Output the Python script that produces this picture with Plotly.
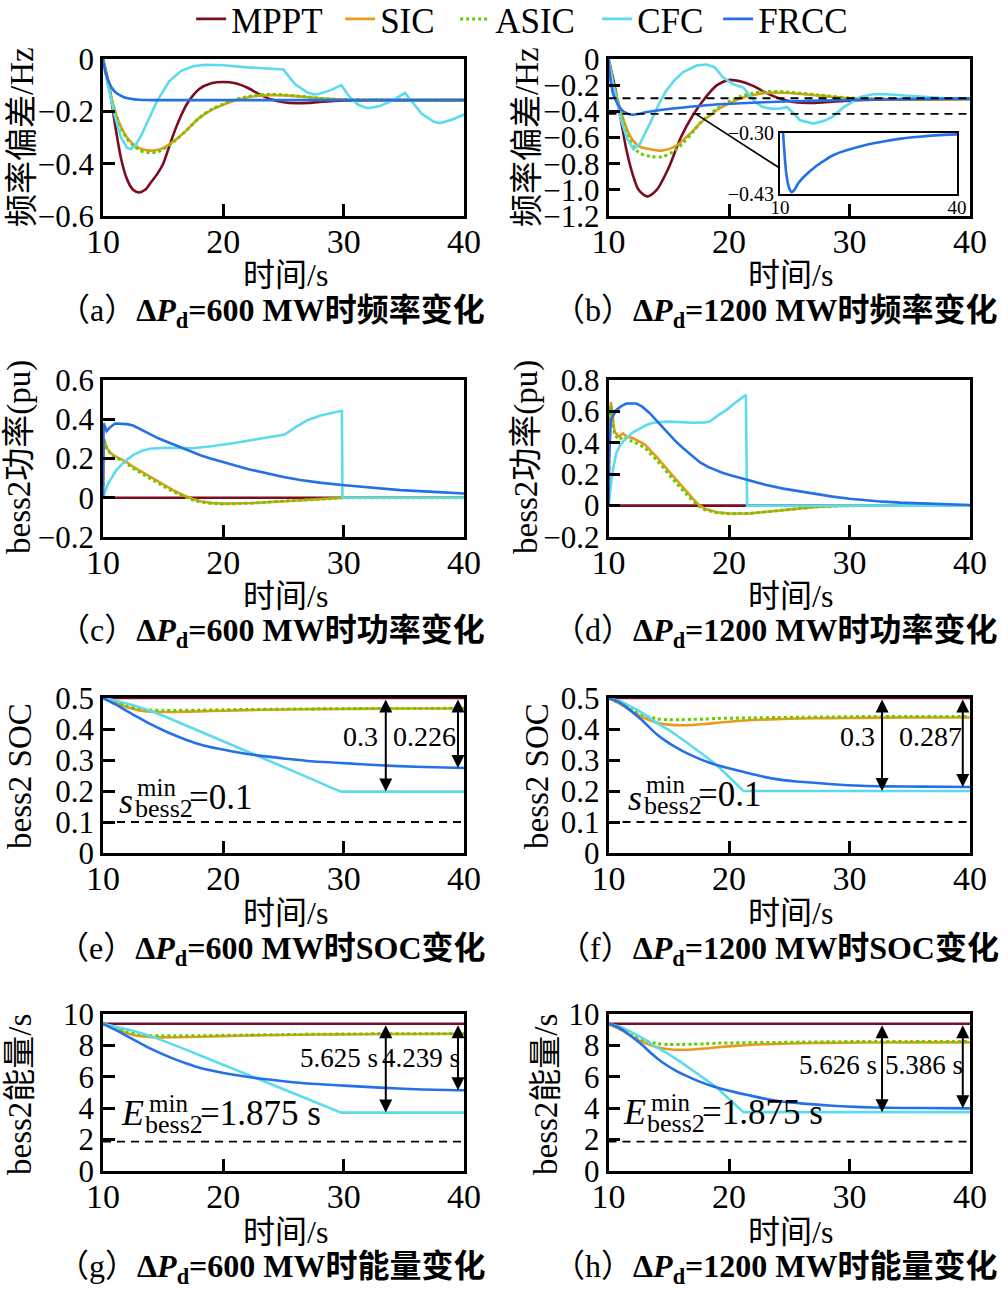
import plotly.graph_objects as go

W, H = 1008, 1292
def px(X): return X / W
def py(Y): return 1 - Y / H

SERIF = "Liberation Serif, Noto Sans CJK SC"
names = ["MPPT", "SIC", "ASIC", "CFC", "FRCC"]
colors = ["#7d0b22", "#e89a1c", "#66cc00", "#5adcee", "#2570e6"]
legend_widths = [104, 70, 97, 76, 88]

# ---------------- (a) 600 MW frequency deviation ----------------
a_t_mppt = [10, 10.5, 11, 11.5, 12, 12.5, 13, 13.5, 14, 14.5, 15, 15.5, 16, 16.5, 17, 18, 19, 20, 21, 22, 23, 24, 25, 26, 27, 28, 30, 33, 40]
a_mppt = [0, -0.1, -0.25, -0.38, -0.46, -0.5, -0.51, -0.5, -0.47, -0.44, -0.4, -0.335, -0.27, -0.215, -0.17, -0.115, -0.093, -0.088, -0.093, -0.11, -0.135, -0.155, -0.165, -0.169, -0.168, -0.164, -0.158, -0.157, -0.157]
a_t_sic = [10, 10.3, 10.7, 11, 11.5, 12, 12.5, 13, 13.5, 14, 14.5, 15, 16, 17, 18, 19, 20, 21, 22, 23, 24, 25, 26, 27, 28, 30, 33, 40]
a_sic = [0, -0.07, -0.15, -0.2, -0.26, -0.3, -0.325, -0.34, -0.348, -0.35, -0.348, -0.34, -0.31, -0.27, -0.225, -0.195, -0.175, -0.158, -0.147, -0.14, -0.138, -0.139, -0.142, -0.146, -0.15, -0.155, -0.157, -0.157]
a_asic = [0, -0.07, -0.15, -0.2, -0.265, -0.305, -0.33, -0.347, -0.356, -0.358, -0.355, -0.345, -0.312, -0.27, -0.225, -0.193, -0.172, -0.155, -0.144, -0.137, -0.135, -0.137, -0.141, -0.145, -0.15, -0.155, -0.157, -0.157]
a_t_cfc = [10, 10.5, 11, 11.5, 12, 12.3, 12.7, 13.2, 13.7, 14.5, 15.5, 16.5, 17.5, 18.5, 20, 22, 24, 25, 25.5, 26, 27, 27.5, 28, 29, 29.8, 30.5, 31.2, 32, 33, 34, 35.1, 35.6, 36.5, 37.5, 38, 39, 40]
a_cfc = [0, -0.12, -0.22, -0.3, -0.34, -0.344, -0.33, -0.29, -0.24, -0.16, -0.085, -0.045, -0.028, -0.022, -0.024, -0.032, -0.037, -0.04, -0.07, -0.098, -0.128, -0.135, -0.133, -0.118, -0.1, -0.145, -0.175, -0.188, -0.18, -0.16, -0.13, -0.16, -0.21, -0.24, -0.245, -0.232, -0.212]
a_t_frcc = [10, 10.2, 10.5, 10.8, 11.2, 11.7, 12.3, 13, 14, 16, 20, 30, 40]
a_frcc = [0, -0.05, -0.09, -0.115, -0.133, -0.145, -0.152, -0.156, -0.157, -0.157, -0.157, -0.157, -0.157]

# ---------------- (b) 1200 MW frequency deviation ----------------
b_t_mppt = [10, 10.5, 11, 11.5, 12, 12.5, 13.2, 14, 15, 16, 17, 18, 19, 20, 21, 22, 23, 24, 25, 26.5, 28, 30, 33, 40]
b_mppt = [0, -0.2, -0.45, -0.7, -0.88, -1.0, -1.05, -1.0, -0.83, -0.6, -0.43, -0.3, -0.2, -0.16, -0.172, -0.205, -0.255, -0.295, -0.322, -0.335, -0.33, -0.318, -0.31, -0.305]
b_t_sic = [10, 10.4, 11, 11.5, 12, 12.6, 13.5, 14.5, 15.5, 16.2, 17, 17.6, 18.3, 19, 20, 21, 22, 23, 24.5, 26, 27.5, 30, 33, 40]
b_sic = [0, -0.19, -0.39, -0.53, -0.62, -0.67, -0.69, -0.70, -0.67, -0.62, -0.55, -0.49, -0.44, -0.39, -0.34, -0.3, -0.275, -0.26, -0.258, -0.268, -0.28, -0.3, -0.306, -0.305]
b_asic = [0, -0.19, -0.4, -0.56, -0.66, -0.72, -0.745, -0.745, -0.7, -0.64, -0.56, -0.49, -0.43, -0.38, -0.325, -0.285, -0.262, -0.25, -0.25, -0.262, -0.275, -0.298, -0.306, -0.305]
b_t_cfc = [10, 10.4, 11, 11.5, 12.07, 12.6, 13.45, 14.2, 14.8, 15.5, 16.2, 17.3, 18.15, 18.8, 19.5, 20.3, 21.2, 21.5, 22.2, 22.8, 23.5, 24.2, 24.8, 25.3, 25.9, 27, 28, 28.6, 29.5, 30.9, 32, 33, 34.5, 36, 38, 40]
b_cfc = [0, -0.2, -0.45, -0.6, -0.69, -0.65, -0.49, -0.34, -0.24, -0.16, -0.1, -0.05, -0.043, -0.063, -0.14, -0.19, -0.22, -0.255, -0.33, -0.367, -0.38, -0.38, -0.367, -0.41, -0.468, -0.494, -0.47, -0.44, -0.37, -0.29, -0.27, -0.27, -0.28, -0.29, -0.3, -0.305]
b_t_frcc = [10, 10.15, 10.4, 10.8, 11.1, 11.5, 11.96, 12.5, 13.1, 14.5, 16, 17.5, 18.9, 21, 24.7, 27.5, 30.5, 33.5, 36.3, 40]
b_frcc = [0, -0.15, -0.27, -0.35, -0.39, -0.415, -0.426, -0.42, -0.407, -0.388, -0.372, -0.359, -0.348, -0.338, -0.325, -0.318, -0.312, -0.308, -0.305, -0.303]
b_zoom_lines = [-0.30, -0.42]
b_inset_range = [-0.43, -0.30]

# ---------------- (c) 600 MW bess2 power ----------------
c_t_mppt = [10, 40]
c_mppt = [0, 0]
c_t_sic = [10, 10.08, 10.3, 10.6, 10.9, 11.4, 12, 12.5, 13.2, 13.9, 14.6, 15.3, 16, 16.7, 17.4, 18.1, 19, 20, 21, 22.5, 24, 26, 28, 29.7, 30, 40]
c_sic = [0, 0.3, 0.255, 0.23, 0.215, 0.2, 0.18, 0.158, 0.133, 0.107, 0.08, 0.056, 0.033, 0.013, -0.005, -0.018, -0.026, -0.03, -0.03, -0.027, -0.022, -0.014, -0.006, -0.002, 0, 0]
c_asic = [0, 0.3, 0.255, 0.225, 0.21, 0.195, 0.172, 0.15, 0.124, 0.098, 0.072, 0.048, 0.026, 0.007, -0.01, -0.022, -0.029, -0.032, -0.031, -0.027, -0.021, -0.013, -0.006, -0.002, 0, 0]
c_t_cfc = [10, 10.4, 11.1, 11.8, 12.5, 13.2, 13.9, 15.3, 17.5, 19, 20.8, 22.5, 24, 25.1, 26, 27, 28, 29, 29.85, 29.9, 40]
c_cfc = [0, 0.07, 0.14, 0.185, 0.217, 0.238, 0.25, 0.255, 0.252, 0.262, 0.278, 0.295, 0.31, 0.322, 0.36, 0.395, 0.418, 0.433, 0.443, 0, 0]
c_t_frcc = [10, 10.05, 10.3, 10.6, 11, 12, 12.5, 13.2, 13.9, 14.6, 15.3, 16, 16.7, 17.4, 18.1, 18.8, 19.5, 20.2, 20.8, 21.5, 22.2, 23.6, 25, 26.4, 28, 30.1, 32.5, 34.7, 37.5, 40]
c_frcc = [0, 0.38, 0.34, 0.36, 0.378, 0.375, 0.368, 0.345, 0.322, 0.303, 0.285, 0.267, 0.25, 0.233, 0.217, 0.203, 0.19, 0.177, 0.166, 0.155, 0.144, 0.124, 0.106, 0.09, 0.077, 0.064, 0.05, 0.039, 0.03, 0.022]

# ---------------- (d) 1200 MW bess2 power ----------------
d_t_mppt = [10, 40]
d_mppt = [0, 0]
d_t_sic = [10, 10.1, 10.2, 10.5, 10.9, 11.2, 11.5, 12, 13, 14, 15, 16, 17, 17.5, 18, 19, 20, 21.7, 23, 24.5, 26, 27.3, 29, 31, 40]
d_sic = [0, 0.55, 0.66, 0.47, 0.44, 0.46, 0.44, 0.43, 0.39, 0.31, 0.22, 0.13, 0.045, 0.005, -0.02, -0.042, -0.05, -0.05, -0.04, -0.028, -0.016, -0.008, -0.003, 0, 0]
d_asic = [0, 0.6, 0.64, 0.45, 0.42, 0.44, 0.42, 0.41, 0.37, 0.29, 0.2, 0.11, 0.03, -0.005, -0.027, -0.046, -0.052, -0.05, -0.04, -0.027, -0.015, -0.007, -0.002, 0, 0]
d_t_cfc = [10, 10.3, 10.64, 11, 11.5, 12, 12.6, 13.2, 13.7, 14.8, 16, 17, 18, 18.4, 19, 19.8, 20.6, 21.4, 21.5, 40]
d_cfc = [0, 0.2, 0.333, 0.39, 0.43, 0.465, 0.49, 0.515, 0.528, 0.535, 0.532, 0.528, 0.53, 0.535, 0.57, 0.61, 0.66, 0.705, 0, 0]
d_t_frcc = [10, 10.05, 10.2, 10.64, 11.1, 11.5, 12.3, 12.8, 13.4, 14.1, 14.8, 15.5, 16.2, 17, 17.6, 18.3, 18.9, 19.5, 20.2, 21.4, 22.2, 23.1, 24.5, 25.9, 27.2, 28.6, 30, 31.4, 32.8, 34.2, 37, 40]
d_frcc = [0, 0.3, 0.545, 0.61, 0.635, 0.65, 0.65, 0.63, 0.59, 0.53, 0.47, 0.415, 0.365, 0.31, 0.275, 0.245, 0.224, 0.208, 0.192, 0.165, 0.148, 0.131, 0.108, 0.089, 0.072, 0.057, 0.044, 0.033, 0.025, 0.019, 0.01, 0.004]

# ---------------- (e) 600 MW SOC ----------------
e_t_mppt = [10, 40]
e_mppt = [0.5, 0.5]
e_t_sic = [10, 11, 12, 13, 14, 15, 16, 18, 20, 22, 25, 28, 31, 35, 40]
e_sic = [0.5, 0.485, 0.47, 0.46, 0.456, 0.455, 0.455, 0.457, 0.459, 0.461, 0.463, 0.464, 0.465, 0.466, 0.466]
e_asic = [0.5, 0.487, 0.474, 0.465, 0.461, 0.46, 0.46, 0.461, 0.462, 0.463, 0.464, 0.465, 0.466, 0.466, 0.467]
e_t_cfc = [10, 11, 12.5, 14, 15.3, 17, 18.5, 20, 21.5, 23, 24.5, 26, 27.5, 29, 29.8, 40]
e_cfc = [0.5, 0.492, 0.477, 0.458, 0.438, 0.41, 0.385, 0.36, 0.336, 0.312, 0.287, 0.262, 0.236, 0.21, 0.198, 0.198]
e_t_frcc = [10, 11, 12, 13, 14, 15, 16, 17, 18, 19.5, 21, 23, 25, 27, 30, 33, 36, 40]
e_frcc = [0.5, 0.48, 0.458, 0.436, 0.415, 0.396, 0.379, 0.364, 0.351, 0.337, 0.326, 0.314, 0.305, 0.297, 0.29, 0.283, 0.278, 0.274]
e_min_line = 0.1

# ---------------- (f) 1200 MW SOC ----------------
f_t_mppt = [10, 40]
f_mppt = [0.5, 0.5]
f_t_sic = [10, 11, 12, 13, 14, 15, 16, 17, 18, 19, 20.5, 22, 24, 26, 28.5, 31, 35, 40]
f_sic = [0.5, 0.48, 0.455, 0.435, 0.42, 0.414, 0.412, 0.413, 0.416, 0.42, 0.425, 0.429, 0.432, 0.434, 0.435, 0.436, 0.437, 0.437]
f_asic = [0.5, 0.482, 0.46, 0.443, 0.433, 0.43, 0.43, 0.431, 0.432, 0.434, 0.435, 0.436, 0.437, 0.438, 0.439, 0.44, 0.44, 0.44]
f_t_cfc = [10, 11, 12.07, 13, 14, 15, 16, 17, 18, 19, 20, 21.2, 40]
f_cfc = [0.5, 0.49, 0.468, 0.447, 0.42, 0.397, 0.37, 0.342, 0.313, 0.283, 0.245, 0.2, 0.2]
f_t_frcc = [10, 10.7, 11.4, 12.07, 12.8, 13.45, 14.1, 14.8, 15.5, 16.2, 17.4, 18.7, 20.4, 21.8, 23.1, 24.5, 25.9, 28.6, 31, 33, 36, 40]
f_frcc = [0.5, 0.49, 0.473, 0.452, 0.428, 0.403, 0.38, 0.36, 0.343, 0.328, 0.306, 0.287, 0.269, 0.256, 0.244, 0.235, 0.23, 0.222, 0.217, 0.215, 0.214, 0.213]
f_min_line = 0.1

# ---------------- (g) 600 MW energy ----------------
g_t_mppt = [10, 40]
g_mppt = [9.375, 9.375]
g_t_sic = [10, 11, 12, 13, 14, 15, 16, 18, 20, 22, 25, 28, 31, 35, 40]
g_sic = [9.375, 9.07, 8.78, 8.6, 8.53, 8.51, 8.52, 8.55, 8.59, 8.63, 8.66, 8.69, 8.71, 8.73, 8.74]
g_asic = [9.375, 9.11, 8.87, 8.7, 8.63, 8.61, 8.61, 8.62, 8.64, 8.66, 8.69, 8.71, 8.73, 8.74, 8.75]
g_t_cfc = [10, 11, 12.5, 14, 15.3, 17, 18.5, 20, 21.5, 23, 24.5, 26, 27.5, 29, 29.8, 40]
g_cfc = [9.375, 9.22, 8.94, 8.59, 8.22, 7.7, 7.23, 6.76, 6.3, 5.86, 5.39, 4.92, 4.43, 3.95, 3.72, 3.72]
g_t_frcc = [10, 11, 12, 13, 14, 15, 16, 17, 18, 19.5, 21, 23, 25, 27, 30, 33, 36, 40]
g_frcc = [9.375, 9.0, 8.59, 8.18, 7.78, 7.43, 7.11, 6.83, 6.58, 6.32, 6.11, 5.89, 5.72, 5.57, 5.44, 5.31, 5.21, 5.14]
g_min_line = 1.875

# ---------------- (h) 1200 MW energy ----------------
h_t_mppt = [10, 40]
h_mppt = [9.375, 9.375]
h_t_sic = [10, 11, 12, 13, 14, 15, 16, 17, 18, 19, 20.5, 22, 24, 26, 28.5, 31, 35, 40]
h_sic = [9.375, 9.0, 8.53, 8.16, 7.88, 7.76, 7.72, 7.74, 7.8, 7.88, 7.97, 8.04, 8.1, 8.14, 8.16, 8.18, 8.19, 8.19]
h_asic = [9.375, 9.04, 8.63, 8.31, 8.12, 8.06, 8.06, 8.08, 8.1, 8.14, 8.16, 8.18, 8.19, 8.21, 8.23, 8.25, 8.25, 8.25]
h_t_cfc = [10, 11, 12.07, 13, 14, 15, 16, 17, 18, 19, 20, 21.2, 40]
h_cfc = [9.375, 9.19, 8.78, 8.38, 7.88, 7.44, 6.94, 6.41, 5.87, 5.31, 4.59, 3.75, 3.75]
h_t_frcc = [10, 10.7, 11.4, 12.07, 12.8, 13.45, 14.1, 14.8, 15.5, 16.2, 17.4, 18.7, 20.4, 21.8, 23.1, 24.5, 25.9, 28.6, 31, 33, 36, 40]
h_frcc = [9.375, 9.19, 8.87, 8.48, 8.03, 7.56, 7.13, 6.75, 6.43, 6.15, 5.74, 5.38, 5.04, 4.8, 4.58, 4.41, 4.31, 4.16, 4.07, 4.03, 4.01, 3.99]
h_min_line = 1.875

# ---------------- layout helpers ----------------
LX = [103, 464]
RX = [608.5, 970]
ROWS = [[59, 216], [380, 537], [698, 853], [1014, 1171]]

panels = [
    ("a", 1, LX, 0, [-0.6, 0], [0, -0.2, -0.4, -0.6], ["0", "−0.2", "−0.4", "−0.6"],
     [(a_t_mppt, a_mppt), (a_t_sic, a_sic), (a_t_sic, a_asic), (a_t_cfc, a_cfc), (a_t_frcc, a_frcc)]),
    ("b", 2, RX, 0, [-1.2, 0], [0, -0.2, -0.4, -0.6, -0.8, -1.0, -1.2], ["0", "−0.2", "−0.4", "−0.6", "−0.8", "−1.0", "−1.2"],
     [(b_t_mppt, b_mppt), (b_t_sic, b_sic), (b_t_sic, b_asic), (b_t_cfc, b_cfc), (b_t_frcc, b_frcc)]),
    ("c", 3, LX, 1, [-0.2, 0.6], [0.6, 0.4, 0.2, 0, -0.2], ["0.6", "0.4", "0.2", "0", "−0.2"],
     [(c_t_mppt, c_mppt), (c_t_sic, c_sic), (c_t_sic, c_asic), (c_t_cfc, c_cfc), (c_t_frcc, c_frcc)]),
    ("d", 4, RX, 1, [-0.2, 0.8], [0.8, 0.6, 0.4, 0.2, 0, -0.2], ["0.8", "0.6", "0.4", "0.2", "0", "−0.2"],
     [(d_t_mppt, d_mppt), (d_t_sic, d_sic), (d_t_sic, d_asic), (d_t_cfc, d_cfc), (d_t_frcc, d_frcc)]),
    ("e", 5, LX, 2, [0, 0.5], [0.5, 0.4, 0.3, 0.2, 0.1, 0], ["0.5", "0.4", "0.3", "0.2", "0.1", "0"],
     [(e_t_mppt, e_mppt), (e_t_sic, e_sic), (e_t_sic, e_asic), (e_t_cfc, e_cfc), (e_t_frcc, e_frcc)]),
    ("f", 6, RX, 2, [0, 0.5], [0.5, 0.4, 0.3, 0.2, 0.1, 0], ["0.5", "0.4", "0.3", "0.2", "0.1", "0"],
     [(f_t_mppt, f_mppt), (f_t_sic, f_sic), (f_t_sic, f_asic), (f_t_cfc, f_cfc), (f_t_frcc, f_frcc)]),
    ("g", 7, LX, 3, [0, 10], [10, 8, 6, 4, 2, 0], ["10", "8", "6", "4", "2", "0"],
     [(g_t_mppt, g_mppt), (g_t_sic, g_sic), (g_t_sic, g_asic), (g_t_cfc, g_cfc), (g_t_frcc, g_frcc)]),
    ("h", 8, RX, 3, [0, 10], [10, 8, 6, 4, 2, 0], ["10", "8", "6", "4", "2", "0"],
     [(h_t_mppt, h_mppt), (h_t_sic, h_sic), (h_t_sic, h_asic), (h_t_cfc, h_cfc), (h_t_frcc, h_frcc)]),
]

fig = go.Figure()
layout = dict(
    width=W, height=H, margin=dict(l=0, r=0, t=0, b=0, autoexpand=False),
    paper_bgcolor="white", plot_bgcolor="white",
    font=dict(family=SERIF, color="black", size=30),
    showlegend=True,
    legend=dict(orientation="h", x=0.517, xanchor="center", y=1.008, yanchor="top",
                font=dict(size=35, family=SERIF, color="black"), bgcolor="rgba(0,0,0,0)",
                itemwidth=30, tracegroupgap=0),
)

def axcfg(**kw):
    base = dict(showline=True, linecolor="black", linewidth=2.5, mirror=True,
                ticks="inside", ticklen=12, tickwidth=2.5, tickcolor="black",
                showgrid=False, zeroline=False, automargin=False, fixedrange=True)
    base.update(kw)
    return base

shapes = []
annotations = []

for key, idx, xpix, row, yr, yt, ytt, series in panels:
    sfx = "" if idx == 1 else str(idx)
    xname, yname = "x" + sfx, "y" + sfx
    ytop, ybot = ROWS[row]
    layout["xaxis" + sfx] = axcfg(domain=[px(xpix[0]), px(xpix[1])], anchor=yname, range=[10, 40],
                                  tickvals=[10, 20, 30, 40], ticktext=["10", "20", "30", "40"],
                                  ticklabelstandoff=-7,
                                  tickfont=dict(size=34, family=SERIF, color="black"))
    layout["yaxis" + sfx] = axcfg(domain=[py(ybot), py(ytop)], anchor=xname, range=yr,
                                  tickvals=yt, ticktext=ytt,
                                  tickfont=dict(size=31, family=SERIF, color="black"))
    for i, (t, v) in enumerate(series):
        nm = names[i]
        shape = "linear"
        if nm in ("MPPT", "SIC", "ASIC", "FRCC") and key in ("a", "b", "e", "f", "g", "h"):
            shape = "spline"
        line = dict(color=colors[i], width=2.6, shape=shape)
        if shape == "spline":
            line["smoothing"] = 0.8
        if nm == "ASIC":
            line["dash"] = "dot"
            line["width"] = 3
        fig.add_trace(go.Scatter(x=t, y=v, mode="lines", name=nm, line=line,
                                 xaxis=xname, yaxis=yname, showlegend=(key == "a"),
                                 legendwidth=legend_widths[i],
                                 legendgroup=nm, hoverinfo="skip"))

# ---- inset for (b) ----
layout["xaxis9"] = axcfg(domain=[px(780), px(957)], anchor="y9", range=[10, 40], tickvals=[10, 40],
                         ticktext=["10", "40"], ticks="", linewidth=2, ticklabelstandoff=-5,
                         tickfont=dict(size=19, family=SERIF, color="black"))
layout["yaxis9"] = axcfg(domain=[py(194), py(133)], anchor="x9", range=b_inset_range,
                         tickvals=b_inset_range, ticktext=["−0.43", "−0.30"], ticks="", linewidth=2,
                         tickfont=dict(size=20, family=SERIF, color="black"))
fig.add_trace(go.Scatter(x=b_t_frcc, y=b_frcc, mode="lines", line=dict(color=colors[4], width=2.6, shape="spline", smoothing=0.8),
                         xaxis="x9", yaxis="y9", showlegend=False, hoverinfo="skip"))

# dashed reference lines
for yv in b_zoom_lines:
    shapes.append(dict(type="line", xref="x2", yref="y2", x0=10, x1=40, y0=yv, y1=yv,
                       line=dict(color="black", width=1.8, dash="8px,6px")))
shapes.append(dict(type="line", xref="x2", yref="y2", x0=17.2, y0=-0.418, x1=24.23, y1=-0.835,
                   line=dict(color="black", width=1.6)))
for ax, yv in (("5", e_min_line), ("6", f_min_line), ("7", g_min_line), ("8", h_min_line)):
    shapes.append(dict(type="line", xref="x" + ax, yref="y" + ax, x0=10, x1=40, y0=yv, y1=yv,
                       line=dict(color="black", width=1.8, dash="8px,6px")))

# double arrows
def darrow(ax, t, y0, y1):
    annotations.append(dict(x=t, y=y1, ax=t, ay=y0, xref="x" + ax, yref="y" + ax,
                            axref="x" + ax, ayref="y" + ax, text="", showarrow=True,
                            arrowhead=2, arrowside="end+start", arrowsize=1.3, arrowwidth=2,
                            arrowcolor="black", standoff=0, startstandoff=0))

darrow("5", 33.5, 0.5, 0.198); darrow("5", 39.5, 0.5, 0.274)
darrow("6", 32.7, 0.5, 0.2); darrow("6", 39.4, 0.5, 0.213)
darrow("7", 33.5, 9.375, 3.72); darrow("7", 39.5, 9.375, 5.14)
darrow("8", 32.7, 9.375, 3.75); darrow("8", 39.4, 9.375, 3.99)

def txt(X, Y, s, size=30, xanchor="center", yanchor="middle", angle=0):
    annotations.append(dict(x=px(X), y=py(Y), xref="paper", yref="paper", text=s, showarrow=False,
                            xanchor=xanchor, yanchor=yanchor, textangle=angle,
                            font=dict(size=size, family=SERIF, color="black")))

# value labels
txt(360, 736, "0.3", 28); txt(424, 736, "0.226", 28)
txt(857, 736, "0.3", 28); txt(930, 736, "0.287", 28)
txt(339, 1058, "5.625 s", 27); txt(421, 1058, "4.239 s", 27)
txt(838, 1065, "5.626 s", 27); txt(924, 1065, "5.386 s", 27)

# s_bess2^min and E_bess2^min labels
for (x0, y0) in ((117, 797), (626, 794)):
    txt(x0, y0 + 4, "<i>s</i>", 36, xanchor="left")
    txt(x0 + 18, y0 - 10, "min", 25, xanchor="left")
    txt(x0 + 16, y0 + 11, "bess2", 26, xanchor="left")
    txt(x0 + 70, y0, "=0.1", 35, xanchor="left")
for (x0, y0) in ((119, 1113), (621, 1112)):
    txt(x0, y0, "<i>E</i>", 36, xanchor="left")
    txt(x0 + 28, y0 - 10, "min", 25, xanchor="left")
    txt(x0 + 24, y0 + 11, "bess2", 26, xanchor="left")
    txt(x0 + 79, y0, "=1.875 s", 35, xanchor="left")

# axis titles
for cx in (285, 790):
    for Y in (275, 596, 913, 1232):
        txt(cx, Y, "时间/s", 32)
txt(22, 137, "频率偏差/Hz", 33, angle=-90)
txt(527, 137, "频率偏差/Hz", 33, angle=-90)
txt(20, 457, "bess2功率(pu)", 33, angle=-90)
txt(527, 457, "bess2功率(pu)", 33, angle=-90)
txt(20, 776, "bess2 SOC", 33, angle=-90)
txt(537, 776, "bess2 SOC", 33, angle=-90)
txt(20, 1095, "bess2能量/s", 33, angle=-90)
txt(546, 1095, "bess2能量/s", 33, angle=-90)

# captions
caps = [
    (271, 312, "（a）<b>Δ<i>P</i><sub>d</sub>=600 MW时频率变化</b>"),
    (775, 312, "（b）<b>Δ<i>P</i><sub>d</sub>=1200 MW时频率变化</b>"),
    (271, 632, "（c）<b>Δ<i>P</i><sub>d</sub>=600 MW时功率变化</b>"),
    (775, 632, "（d）<b>Δ<i>P</i><sub>d</sub>=1200 MW时功率变化</b>"),
    (271, 950, "（e）<b>Δ<i>P</i><sub>d</sub>=600 MW时SOC变化</b>"),
    (778, 950, "（f）<b>Δ<i>P</i><sub>d</sub>=1200 MW时SOC变化</b>"),
    (271, 1268, "（g）<b>Δ<i>P</i><sub>d</sub>=600 MW时能量变化</b>"),
    (775, 1268, "（h）<b>Δ<i>P</i><sub>d</sub>=1200 MW时能量变化</b>"),
]
for X, Y, s in caps:
    txt(X, Y, s, 32)

layout["shapes"] = shapes
layout["annotations"] = annotations
fig.update_layout(**layout)
fig.write_html("out.html")
